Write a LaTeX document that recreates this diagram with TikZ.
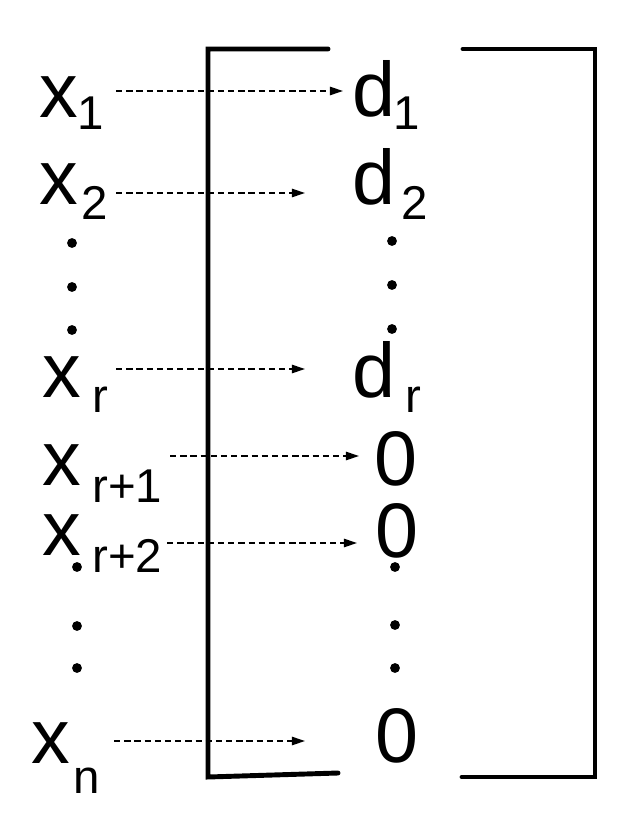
\documentclass[tikz,border=0pt]{standalone}
\usepackage{fontspec}
\usepackage{xcolor}
\setmainfont{Liberation Sans}
\usetikzlibrary{arrows.meta}

\begin{document}
\begin{tikzpicture}[
    x=0.02cm, y=-0.02cm,
    lbl/.style={inner sep=0pt, anchor=base west, font=\fontsize{44}{44}\selectfont},
    sub/.style={inner sep=0pt, anchor=base west, font=\fontsize{27}{27}\selectfont},
    brk/.style={line width=2.8pt, line cap=round, line join=miter},
    arr/.style={-{Triangle[length=7.5pt,width=4.8pt]}, line width=0.8pt, dash pattern=on 3.6pt off 2.2pt},
    vdot/.style={fill=black}
  ]
    \useasboundingbox (0,0) rectangle (622,820);

    % brackets
    \draw[brk] (328,49) -- (208,49) -- (208,777) -- (338,773);
    \draw[brk] (463,49) -- (595,49) -- (595,777) -- (462,777);

    % left column
    \node[lbl] (x1) at (39,118) {x};
    \node[sub] (x1s) at (77,130) {1};
    \node[lbl] (x2) at (39,205) {x};
    \node[sub] (x2s) at (81,220) {2};
    \node[lbl] (xr) at (42,397) {x};
    \node[sub] (xrs) at (92,412) {r};
    \node[lbl] (xra) at (42,485) {x};
    \node[sub] (xras) at (92,502) {r+1};
    \node[lbl] (xrb) at (42,555) {x};
    \node[sub] (xrbs) at (92,572) {r+2};
    \node[lbl] (xn) at (31,763) {x};
    \node[sub] (xns) at (73,793) {n};

    % right column
    \node[lbl] (d1) at (352,117) {d};
    \node[sub] (d1s) at (393,130) {1};
    \node[lbl] (d2) at (352,205) {d};
    \node[sub] (d2s) at (401,220) {2};
    \node[lbl] (dr) at (352,397) {d};
    \node[sub] (drs) at (405,412) {r};
    \node[lbl] (z1) at (374,485) {0};
    \node[lbl] (z2) at (375,557) {0};
    \node[lbl] (z3) at (375,762) {0};

    % dots
    \foreach \px/\py in {72/243, 72/287, 72/330, 392/241, 392/285, 392/329,
                         77/567, 77/626, 77/668, 395/567, 395/625, 395/668}
      \fill[vdot] (\px,\py) circle (2.8pt);

    % dashed maps
    \foreach \i/\xa/\xb/\yy in {1/116/343/91, 2/116/305/193, 3/116/305/369,
                                4/170/359/456, 5/167/357/543, 6/114/305/741} {
      \coordinate (s\i) at (\xa,\yy);
      \coordinate (e\i) at (\xb,\yy);
      \draw[arr] (s\i) -- (e\i);
    }
\end{tikzpicture}
\end{document}
